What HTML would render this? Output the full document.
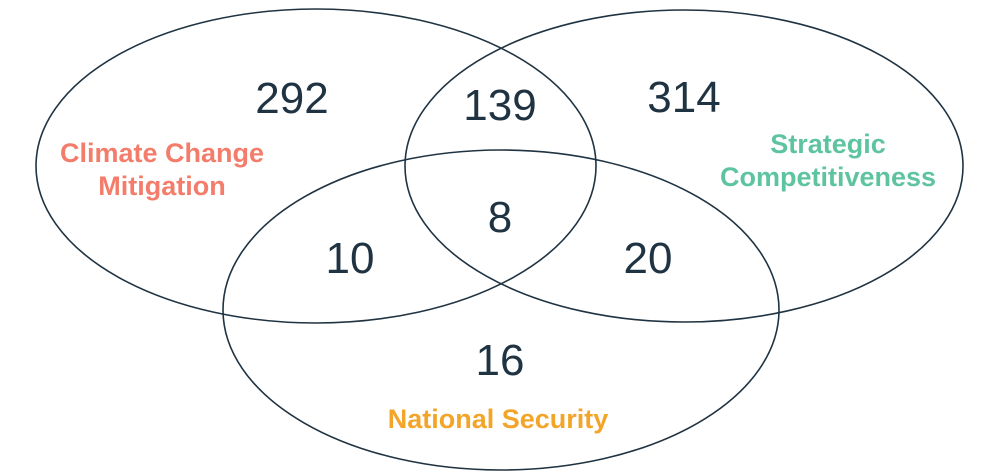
<!DOCTYPE html>
<html><head><meta charset="utf-8"><style>
html,body{margin:0;padding:0;background:#fff;}
svg{display:block;}
text{font-family:"Liberation Sans",sans-serif;}
.n{font-size:44px;fill:#1f3342;text-anchor:middle;}
.l{font-size:27px;font-weight:bold;text-anchor:middle;}
</style></head><body>
<svg width="1000" height="476" viewBox="0 0 1000 476">
<g fill="none" stroke="#1f3342" stroke-width="1.6">
<ellipse cx="316" cy="166" rx="280" ry="157"/>
<ellipse cx="684" cy="166" rx="279" ry="156"/>
<ellipse cx="501" cy="310" rx="278" ry="160"/>
</g>
<text class="n" x="292" y="113">292</text>
<text class="n" x="500" y="120">139</text>
<text class="n" x="684" y="112">314</text>
<text class="n" x="500" y="232">8</text>
<text class="n" x="350" y="273">10</text>
<text class="n" x="648" y="273">20</text>
<text class="n" x="500" y="375">16</text>
<text class="l" x="162" y="162" fill="#f47c6a">Climate Change</text>
<text class="l" x="162" y="195" fill="#f47c6a">Mitigation</text>
<text class="l" x="828" y="153" fill="#5ec4a0">Strategic</text>
<text class="l" x="828" y="186" fill="#5ec4a0">Competitiveness</text>
<text class="l" x="498" y="428" fill="#f3a52a">National Security</text>
</svg>
</body></html>
